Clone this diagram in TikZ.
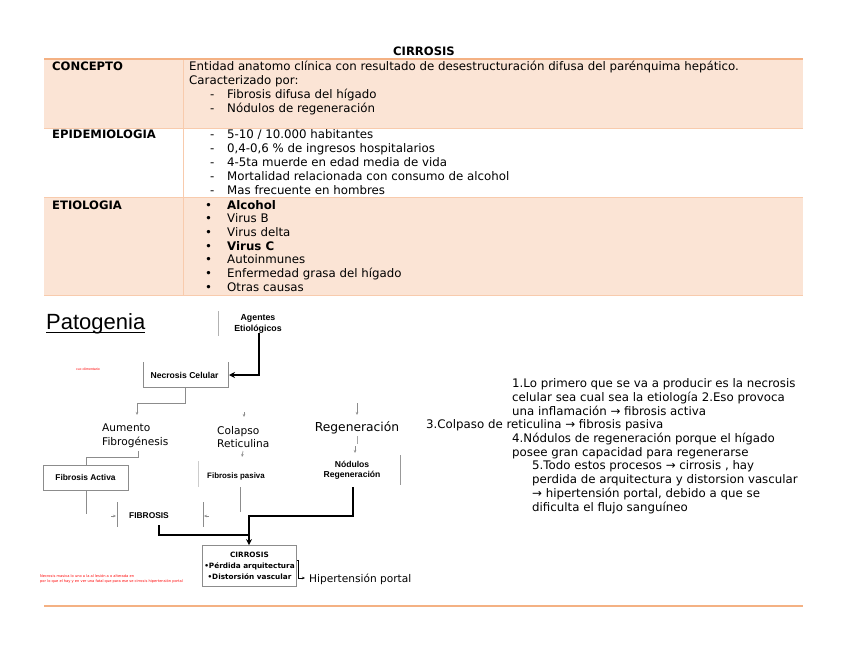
\documentclass[tikz,border=0pt]{standalone}
\usepackage{fontspec}
\setmainfont{DejaVu Sans}
\newfontfamily\ar{Liberation Sans}
\usetikzlibrary{arrows.meta}
\definecolor{peach}{HTML}{FBE4D5}
\definecolor{orng}{HTML}{F4B183}
\definecolor{orngl}{HTML}{F8CBAD}
\definecolor{grayln}{HTML}{8C8C8C}
\definecolor{redtx}{HTML}{FF0000}
\begin{document}
\begin{tikzpicture}[x=1pt,y=-1pt,
  tx/.style={anchor=base west,inner sep=0pt,font=\fontsize{11.8}{14}\selectfont},
  bx/.style={anchor=base west,inner sep=0pt,font=\fontsize{11.6}{14}\selectfont\bfseries},
  lab/.style={inner sep=0pt,align=center,font=\ar\bfseries\fontsize{8.4}{10}\selectfont},
  big/.style={inner sep=0pt,align=left,anchor=north west,font=\fontsize{10.6}{13.5}\selectfont},
  gl/.style={draw=grayln,line width=0.8pt},
  thin/.style={draw=grayln,line width=0.6pt,-{Stealth[length=3pt,width=2.5pt]}},
  thick/.style={draw=black,line width=2pt},
  thickarr/.style={draw=black,line width=2pt,-{Stealth[length=6pt,width=6pt]}}]
\useasboundingbox (0,0) rectangle (848,655);
% table
\fill[peach] (44,60) rectangle (803,128);
\fill[peach] (44,198) rectangle (803,295);
\draw[orng,line width=1.6pt] (44,59) -- (803,59);
\draw[orngl,line width=0.8pt] (44,128.5) -- (803,128.5) (44,197.5) -- (803,197.5) (44,295.5) -- (803,295.5);
\draw[orngl,line width=0.8pt] (183,60) -- (183,295);
\draw[orng,line width=1.6pt] (44,606) -- (803,606);
\node[anchor=base,inner sep=0pt,font=\fontsize{11.6}{14}\selectfont\bfseries] (title) at (424,56) {CIRROSIS};
% concepto
\node[bx] (h1) at (52,71) {CONCEPTO};
\node[tx] (c1) at (189,71) {Entidad anatomo clínica con resultado de desestructuración difusa del parénquima hepático.};
\node[tx] (c2) at (189,85) {Caracterizado por:};
\node[tx] (c3d) at (210,99) {-};
\node[tx] (c3) at (227,99) {Fibrosis difusa del hígado};
\node[tx] (c4d) at (210,113) {-};
\node[tx] (c4) at (227,113) {Nódulos de regeneración};
% epidemiologia
\node[bx] (h2) at (52,139) {EPIDEMIOLOGIA};
\foreach \t [count=\i] in {5-10 / 10.000 habitantes,{0,4-0,6 \% de ingresos hospitalarios},4-5ta muerde en edad media de vida,Mortalidad relacionada con consumo de alcohol,Mas frecuente en hombres}{
  \node[tx] (ed\i) at (210,125+14*\i) {-};
  \node[tx] (e\i) at (227,125+14*\i) {\t};
}
% etiologia
\node[bx] (h3) at (52,209) {ETIOLOGIA};
\foreach \t [count=\i] in {\textbf{Alcohol},Virus B,Virus delta,\textbf{Virus C},Autoinmunes,Enfermedad grasa del hígado,Otras causas}{
  \node[tx] (bd\i) at (205,195.3+13.7*\i) {•};
  \node[tx] (b\i) at (227,195.3+13.7*\i) {\t};
}
% patogenia
\node[anchor=base west,inner sep=0pt,font=\ar\fontsize{22}{24}\selectfont] (pat) at (46,329) {Patogenia};
\draw[line width=1.6pt] (pat.base west) ++(0,3.5) coordinate (ul1) -- (pat.base east |- ul1);
\draw[gl,draw=gray!60] (218,311) -- (218,336);
\node[lab,font=\ar\bfseries\fontsize{8.8}{11}\selectfont] (ag) at (258,323.5) {Agentes\\Etiológicos};
\node[inner sep=0pt,font=\ar\fontsize{3.5}{4}\selectfont,text=redtx] (red1) at (88,369) {cuc olimentario};
% necrosis
\node[lab,font=\ar\bfseries\fontsize{8.6}{10}\selectfont] (nec) at (184.5,375) {Necrosis Celular};
\coordinate (necL) at (143,362);
\coordinate (necR) at (228,362);
\draw[gl] (necL) -- (143,387) -- (228,387) -- (necR);
\draw[thickarr] (ag.south -| 259,336) -- (259,375) -- (229,375);
% branches
\node[big] (aum) at (102,424) {Aumento\\Fibrogénesis};
\node[big] (col) at (217,426) {Colapso\\Reticulina};
\node[inner sep=0pt,font=\fontsize{12.3}{14}\selectfont] (reg) at (357,428) {Regeneración};
\draw[thin] (185,387) -- (185,403) -- (137,403) -- (137,415);
\draw[thin] (244,412) -- (244,417);
\draw[thin] (357,403) -- (357,415);
% level 3
\node[lab,draw=grayln,line width=0.8pt,minimum width=85pt,minimum height=25pt] (fa) at (85.5,477.5) {Fibrosis Activa};
\draw[gl] (138,451) -- (138,457) -- (86,457) -- (fa.north -| 86,0);
\node[lab,font=\ar\bfseries\fontsize{7.9}{10}\selectfont] (fp) at (236,476) {Fibrosis pasiva};
\draw[thin] (243,451) -- (242,457);
\draw[draw=gray!40,line width=0.8pt] (198,461) -- (198,487);
\node[lab,align=center,font=\ar\bfseries\fontsize{8.6}{10.5}\selectfont] (nod) at (352,470.5) {Nódulos\\Regeneración};
\draw[gl,draw=gray!70] (357,436) -- (357,444);
\draw[thin] (355,446) -- (355,453);
\draw[gl,draw=gray!80] (400,455) -- (400,485);
% fibrosis
\node[lab] (fib) at (149,516) {FIBROSIS};
\draw[gl] (86,490) -- (86,514);
\draw[gl] (117,502) -- (117,527);
\draw[thin] (111,516) -- (116,516);
\draw[gl] (203,502) -- (203,527);
\draw[thin] (209,516) -- (204,516);
\draw[gl,draw=gray!90] (240,487) -- (240,512);
% to cirrosis
\node[inner sep=2pt,draw=grayln,line width=0.8pt,minimum width=89pt,minimum height=41pt,align=center,font=\bfseries\fontsize{7.3}{11}\selectfont] (cir) at (249.5,566) {CIRROSIS\\•Pérdida arquitectura\\•Distorsión vascular};
\draw[thick] (159,525) -- (159,535) -- (249,535);
\draw[thickarr] (353,487) -- (353,516) -- (249,516) -- (cir.north -| 249,0);
\node[anchor=base west,inner sep=0pt,font=\fontsize{10.6}{12}\selectfont] (hip) at (309,582) {Hipertensión portal};
\draw[draw=black,line width=0.6pt,-{Stealth[length=3pt,width=2.5pt]}] (cir.east |- 0,560) -- (298,560) -- (298,578) -- ([xshift=-4pt]hip.west |- 0,578);
\node[anchor=west,inner sep=0pt,align=left,font=\fontsize{3.6}{5.5}\selectfont,text=redtx] (red2) at (40,579) {Necrosis masiva lo uno a la al lesión a o alterada en\\por lo que el hay y en ver una fatal que para ese se cirrosis hipertensión portal};
% right text
\node[tx] (r1) at (512,387) {1.Lo primero que se va a producir es la necrosis};
\node[tx] (r2) at (512,401) {celular sea cual sea la etiología 2.Eso provoca};
\node[tx] (r3) at (512,415) {una inflamación → fibrosis activa};
\node[tx] (r4) at (426,428) {3.Colpaso de reticulina → fibrosis pasiva};
\node[tx] (r5) at (512,442) {4.Nódulos de regeneración porque el hígado};
\node[tx] (r6) at (512,456) {posee gran capacidad para regenerarse};
\node[tx] (r7) at (532,469) {5.Todo estos procesos → cirrosis , hay};
\node[tx] (r8) at (532,483) {perdida de arquitectura y distorsion vascular};
\node[tx] (r9) at (532,497) {→ hipertensión portal, debido a que se};
\node[tx] (r10) at (532,511) {dificulta el flujo sanguíneo};
\end{tikzpicture}
\end{document}
